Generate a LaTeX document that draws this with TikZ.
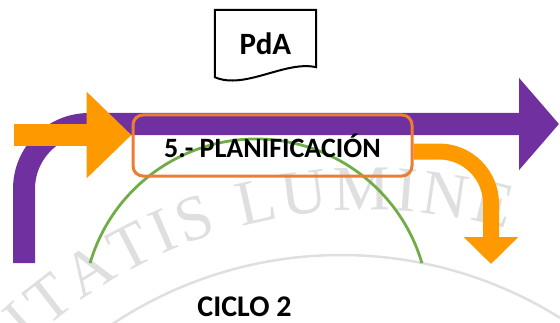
\documentclass[tikz,border=0pt]{standalone}
\usepackage{fontspec}
\setmainfont{Carlito}
\newfontfamily\sellofont{Liberation Serif}
\usepackage{tikz}
\usetikzlibrary{arrows.meta,positioning,calc,backgrounds,decorations.text}

\definecolor{violeta}{HTML}{7030A0}
\definecolor{naranja}{HTML}{FF9900}
\definecolor{naranjaborde}{HTML}{ED7D31}
\definecolor{verde}{HTML}{70AD47}

\begin{document}
\begin{tikzpicture}[x=1pt, y=1pt,
  rotulo/.style={font=\fontsize{#1}{#1}\selectfont\bfseries},
  sello/.style={gray!25, line width=2.5pt}]
  \useasboundingbox (0,0) rectangle (560,322);

  % textos y cajas
  \node[rotulo=31, minimum width=101pt, minimum height=67pt, inner sep=0pt] (pda) at (265.5,278.5) {PdA};
  \draw[line width=2pt] (pda.north west) -- (pda.north east) -- ([yshift=10pt]pda.south east)
    .. controls ($(pda.south east)+(-31pt,17pt)$) and ($(pda.south west)+(30pt,-13pt)$) .. (pda.south west) -- cycle;
  \node[rotulo=28, draw=naranjaborde, line width=3pt, rounded corners=10pt,
    minimum width=279pt, minimum height=61pt, inner sep=0pt] (plan) at (272.5,176.5) {5.- PLANIFICACIÓN};
  \node[rotulo=30] (ciclo) at (244.5,15.5) {CICLO 2};

  \coordinate (centro) at (256,10);
  \coordinate (vini) at (24,59);
  \coordinate (vfin) at (559,198);
  \coordinate (nini) at (14,187);
  \coordinate (bajada) at (491,58);

  \begin{scope}[on background layer]
    % sello de fondo
    \begin{scope}
      \clip (0,0) rectangle (560,322);
      \draw[sello] (341,-346) ++(125:413) arc[start angle=125, end angle=55, radius=413];
      \path[decorate, decoration={text along path, text align=fit to path,
        text={|\color{gray!25}\sellofont\fontsize{64}{64}\selectfont|ITATIS LUMINE}}]
        (369,-389) ++(133:501) arc[start angle=133, end angle=74, radius=501];
    \end{scope}
    % ciclo
    \draw[verde, line width=2.8pt] (centro) ++(163.6:173) arc[start angle=163.6, end angle=16.4, radius=173];
    % flechas
    \draw[violeta, line width=22pt, rounded corners=65pt, -{Triangle[length=40pt, width=90pt]}] (vini) |- (vfin);
    \draw[naranja, line width=22pt, -{Triangle[length=45pt, width=84pt]}] (nini) -- (nini -| plan.west);
    \draw[naranja, line width=16pt, rounded corners=52pt, -{Triangle[length=27pt, width=53pt]}]
      ([yshift=-6pt]plan.east) -| (bajada);
  \end{scope}
\end{tikzpicture}
\end{document}
